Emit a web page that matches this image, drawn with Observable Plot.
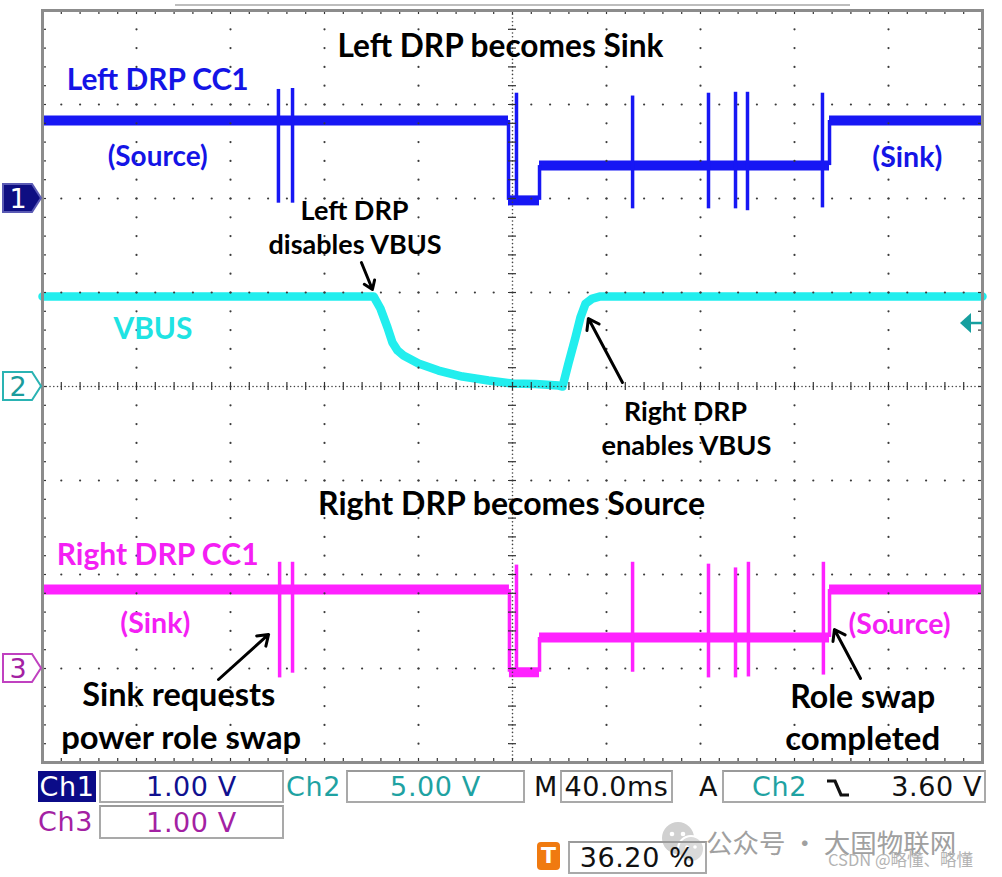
<!DOCTYPE html>
<html><head><meta charset="utf-8">
<script src="https://cdn.jsdelivr.net/npm/d3@7"></script>
<script src="https://cdn.jsdelivr.net/npm/@observablehq/plot@0.6"></script>
<style>
body{margin:0;background:#fff;}
#wrap{position:relative;width:1002px;height:877px;overflow:hidden;background:#fff;}
#wrap > svg{position:absolute;left:0;top:0;}
.st{position:absolute;font-family:"DejaVu Sans",sans-serif;font-size:27px;line-height:31px;height:31px;white-space:nowrap;letter-spacing:0.6px;}
.box{position:absolute;border:2px solid #a9a9a9;border-top-color:#9a9a9a;box-sizing:border-box;font-family:"DejaVu Sans",sans-serif;font-size:27px;letter-spacing:0.6px;display:flex;align-items:center;justify-content:center;white-space:nowrap;background:#fff;}
</style></head><body><div id="wrap"></div>
<script>
// ---- Data ----
// time axis: ms relative to screen centre (40 ms/div); voltages in V
const ch1EdgeTimes = [-1.7, 11.5, 134.9];          // step transitions
const ch1Levels = [0.83, -0.02, 0.35, 0.83];       // level between transitions
const ch1SpikeTimes = [-99.6, -93.6, 1.7, 51.1, 83.4, 94.9, 100.0, 131.9];
const ch1SpikeTop = [1.16, 1.17, 1.12, 1.09, 1.12, 1.13, 1.13, 1.12];
const ch1SpikeBottom = [-0.05, -0.05, -0.07, -0.11, -0.11, -0.11, -0.13, -0.10];

const ch2Times = [-200, -59.1, -56.2, -53.2, -51.1, -48.9, -46.4, -40.0, -31.5, -21.3, -10.2, 0, 9.8, 19.6, 21.3, 23.8, 26.8, 28.9, 31.1, 34.0, 37.4, 200];
const ch2Volts = [4.79, 4.79, 4.15, 3.14, 2.34, 1.91, 1.65, 1.22, 0.85, 0.53, 0.32, 0.16, 0.13, 0.05, 0.0, 1.22, 2.61, 3.67, 4.41, 4.68, 4.79, 4.79];

const ch3EdgeTimes = [-1.3, 11.5, 134.9];
const ch3Levels = [0.84, -0.04, 0.33, 0.84];
const ch3SpikeTimes = [-99.1, -93.6, 1.7, 51.1, 83.4, 94.9, 100.4, 132.3];
const ch3SpikeTop = [1.13, 1.13, 1.10, 1.13, 1.11, 1.07, 1.13, 1.13];
const ch3SpikeBottom = [-0.10, -0.05, -0.09, -0.04, -0.10, -0.10, -0.09, -0.07];

// channel settings: ground position (div from bottom) and V/div
const channelNames = ["1", "2", "3"];
const channelGround = [6, 4, 1];
const channelScale = [1.00, 5.00, 1.00];
const triggerLevel = 3.35; // trigger marker position on Ch2 (V)

// annotations (x in ms, y in divisions)
const labelText = ["Left DRP becomes Sink", "Left DRP CC1", "(Source)", "(Sink)", "Left DRP", "disables VBUS", "VBUS", "Right DRP", "enables VBUS", "Right DRP becomes Source", "Right DRP CC1", "(Sink)", "(Source)", "Sink requests", "power role swap", "Role swap", "completed"];
const labelX = [-5.1, -151, -151, 168, -67.2, -67, -153, 73.6, 74, -0.4, -151, -152, 164.7, -142, -141, 149, 149];
const labelY = [7.61, 7.26, 6.44, 6.43, 5.87, 5.50, 4.61, 3.73, 3.36, 2.74, 2.20, 1.48, 1.46, 0.71, 0.255, 0.69, 0.245];
const labelColor = ["k", "b", "b", "b", "k", "k", "c", "k", "k", "k", "m", "m", "m", "k", "k", "k", "k"];
// annotation typography (font size and rendered width in px)
const labelSize = [31.5, 30.2, 28.5, 28.5, 27.5, 27.5, 30, 27.5, 27.5, 31.5, 30.5, 28.5, 28.5, 32.5, 32.5, 32.5, 32.5];
const labelWidth = [326, 182, 100, 70, 108, 173, 79, 123, 170, 387, 202, 70, 102, 193, 240, 145, 155];
const arrowX1 = [-64.3, 46.8, -125.1, 148.1];
const arrowY1 = [5.319, 4.043, 0.883, 0.894];
const arrowX2 = [-59.6, 32.3, -103.8, 137.0];
const arrowY2 = [5.032, 4.723, 1.362, 1.415];

// ---- build ----
const colors = {k: "#000000", b: "#1414e6", c: "#1fe3e3", m: "#f41ff4"};
const traceColor = ["#1717f4", "#22eeee", "#ff22ff"];
const yd = (ci, v) => channelGround[ci] + v / channelScale[ci];
function levelSegs(edges, levels, ci) {
  const b = [-200, ...edges, 200];
  return levels.map((v, i) => ({x1: b[i], x2: b[i + 1], y: yd(ci, v)}));
}
function edgeSegs(edges, levels, ci) {
  return edges.map((t, i) => ({x: t, y1: yd(ci, levels[i]), y2: yd(ci, levels[i + 1])}));
}
function spikeSegs(times, top, bot, ci) {
  return times.map((t, i) => ({x: t, y1: yd(ci, bot[i]), y2: yd(ci, top[i])}));
}
const vbus = ch2Times.map((t, i) => ({x: t, y: yd(1, ch2Volts[i])}));
const labels = labelText.map((s, i) => ({s, x: labelX[i], y: labelY[i], c: colors[labelColor[i]], fs: labelSize[i]}));
const arrows = arrowX1.map((x1, i) => ({x1, y1: arrowY1[i], x2: arrowX2[i], y2: arrowY2[i]}));

// graticule
const majorX = d3.range(-160, 161, 40).filter(d => d !== 0);
const majorY = d3.range(1, 8).filter(d => d !== 4);
const subX = d3.range(-200, 200.01, 8);
const subY = d3.range(0, 8.001, 0.2);
const gridDots = [];
for (const x of majorX) for (const y of subY) gridDots.push({x, y});
for (const y of majorY) for (const x of subX) gridDots.push({x, y});
const axisDotsX = d3.range(-200, 200.01, 1.6);
const axisDotsY = d3.range(0, 8.001, 0.04);
const tx = 1.7, ty = 0.043; // tick half-lengths (~4px)

const plot = Plot.plot({
  width: 1002, height: 877,
  marginLeft: 42, marginRight: 20, marginTop: 10, marginBottom: 115,
  x: {domain: [-200, 200], axis: null},
  y: {domain: [0, 8], axis: null},
  style: {background: "transparent"},
  marks: [
    // traces
    Plot.line(vbus, {x: "x", y: "y", stroke: traceColor[1], strokeWidth: 8.5, strokeLinejoin: "round"}),
    Plot.ruleY(levelSegs(ch1EdgeTimes, ch1Levels, 0), {y: "y", x1: "x1", x2: "x2", stroke: traceColor[0], strokeWidth: 10}),
    Plot.ruleX(edgeSegs(ch1EdgeTimes, ch1Levels, 0), {x: "x", y1: "y1", y2: "y2", stroke: traceColor[0], strokeWidth: 3.5}),
    Plot.ruleX(spikeSegs(ch1SpikeTimes, ch1SpikeTop, ch1SpikeBottom, 0), {x: "x", y1: "y1", y2: "y2", stroke: traceColor[0], strokeWidth: 3.5}),
    Plot.ruleY(levelSegs(ch3EdgeTimes, ch3Levels, 2), {y: "y", x1: "x1", x2: "x2", stroke: traceColor[2], strokeWidth: 10}),
    Plot.ruleX(edgeSegs(ch3EdgeTimes, ch3Levels, 2), {x: "x", y1: "y1", y2: "y2", stroke: traceColor[2], strokeWidth: 3.5}),
    Plot.ruleX(spikeSegs(ch3SpikeTimes, ch3SpikeTop, ch3SpikeBottom, 2), {x: "x", y1: "y1", y2: "y2", stroke: traceColor[2], strokeWidth: 3.5}),
    // graticule on top
    Plot.dot(gridDots, {x: "x", y: "y", r: 1.1, fill: "#3a3a3a", stroke: null}),
    Plot.dot(axisDotsX, {x: d => d, y: 4, r: 0.8, fill: "#444", stroke: null}),
    Plot.dot(axisDotsY, {x: 0, y: d => d, r: 0.8, fill: "#444", stroke: null}),
    Plot.ruleX(subX, {x: d => d, y1: 4 - ty, y2: 4 + ty, stroke: "#333", strokeWidth: 1.2}),
    Plot.ruleY(subY, {y: d => d, x1: -tx, x2: tx, stroke: "#333", strokeWidth: 1.2}),
    // frame ticks
    Plot.ruleY(subY, {y: d => d, x1: -200, x2: -200 + tx, stroke: "#333", strokeWidth: 1.2}),
    Plot.ruleY(subY, {y: d => d, x1: 200 - tx, x2: 200, stroke: "#333", strokeWidth: 1.2}),
    Plot.ruleX(subX, {x: d => d, y1: 0, y2: ty, stroke: "#333", strokeWidth: 1.2}),
    Plot.ruleX(subX, {x: d => d, y1: 8 - ty, y2: 8, stroke: "#333", strokeWidth: 1.2}),
    Plot.frame({stroke: "#8c8c8c", strokeWidth: 3}),
    // annotations
    Plot.text(labels, {x: "x", y: "y", text: "s", fill: "c", fontSize: "fs", fontFamily: "Lato", fontWeight: "bold", className: "ann"}),
    Plot.arrow(arrows, {x1: "x1", y1: "y1", x2: "x2", y2: "y2", stroke: "#000", strokeWidth: 3, headLength: 6, headAngle: 70})
  ]
});

const wrap = document.getElementById("wrap");
wrap.appendChild(plot);

// fit annotation widths to the reference
d3.select(plot).selectAll("g.ann text").each(function (d, i) {
  this.setAttribute("textLength", labelWidth[i]);
  this.setAttribute("lengthAdjust", "spacingAndGlyphs");
});

// channel markers and trigger-level marker from the plot's scales
const ys = plot.scale("y"), xs = plot.scale("x");
const svg = d3.select(plot);
const mk = svg.append("g");
const markerFill = ["#0e0e82", "#ffffff", "#ffffff"];
const markerStroke = ["#5a5ab4", "#2ab3b3", "#c041c0"];
const markerText = ["#ffffff", "#1b9c9c", "#a321a3"];
channelNames.forEach((n, i) => {
  const y = ys.apply(channelGround[i]);
  mk.append("path")
    .attr("d", `M3,${y - 14}H32L41,${y}L32,${y + 14}H3Z`)
    .attr("fill", markerFill[i]).attr("stroke", markerStroke[i]).attr("stroke-width", 2);
  mk.append("text").attr("x", 18).attr("y", y + 10).attr("text-anchor", "middle")
    .attr("font-family", "DejaVu Sans").attr("font-size", 27).attr("fill", markerText[i]).text(n);
});
{
  const y = ys.apply(yd(1, triggerLevel));
  const xr = xs.apply(200);
  mk.append("path").attr("d", `M${xr - 22},${y}L${xr - 11},${y - 10}L${xr - 11},${y + 10}Z`).attr("fill", "#169f9f");
  mk.append("line").attr("x1", xr - 12).attr("x2", xr).attr("y1", y).attr("y2", y).attr("stroke", "#169f9f").attr("stroke-width", 2.5);
}
// record bar line above the frame
mk.append("line").attr("x1", 175).attr("x2", 850).attr("y1", 5).attr("y2", 5).attr("stroke", "#bdbdbd").attr("stroke-width", 2);

// ---- status bar ----
function add(html, cls, css) {
  const d = document.createElement("div");
  d.className = cls; d.innerHTML = html; Object.assign(d.style, css); wrap.appendChild(d);
  return d;
}
// watermark icon first (sits behind the trigger-position box)
add('<svg width="50" height="44"><circle cx="20" cy="18" r="16" fill="#d0d0d0"/><circle cx="33" cy="29" r="13" fill="#dadada" stroke="#fff" stroke-width="2"/><circle cx="14" cy="14" r="2.3" fill="#fff"/><circle cx="25" cy="14" r="2.3" fill="#fff"/><circle cx="29" cy="27" r="1.8" fill="#fff"/><circle cx="37" cy="27" r="1.8" fill="#fff"/></svg>', "st", {left: "658px", top: "820px", height: "44px"});

add("Ch1", "st", {left: "38px", top: "771px", width: "58px", background: "#0b0b88", color: "#fff", textAlign: "center"});
add("1.00 V", "box", {left: "99px", top: "770px", width: "185px", height: "33px", color: "#10108f"});
add("Ch2", "st", {left: "286px", top: "771px", color: "#1fa2a2"});
add("5.00 V", "box", {left: "346px", top: "770px", width: "179px", height: "33px", color: "#1fa2a2"});
add("M", "st", {left: "534px", top: "771px", color: "#111"});
add("40.0ms", "box", {left: "560px", top: "770px", width: "113px", height: "33px", color: "#111"});
add("A", "st", {left: "699px", top: "771px", color: "#111"});
add('<span style="color:#1fa2a2;position:absolute;left:28px;">Ch2</span>' +
    '<svg style="position:absolute;left:102px;top:5px" width="24" height="22"><path d="M1,4H9L15,18H23" fill="none" stroke="#111" stroke-width="3.2"/></svg>' +
    '<span style="position:absolute;right:2px;">3.60 V</span>', "box", {left: "722px", top: "770px", width: "264px", height: "33px", color: "#111", justifyContent: "flex-start"});
add("Ch3", "st", {left: "38px", top: "806px", color: "#a321a3"});
add("1.00 V", "box", {left: "99px", top: "805px", width: "185px", height: "34px", color: "#a321a3"});
add('<span style="display:block;width:23px;height:28px;background:#f07a10;border-radius:4px;color:#fff;font-family:\'DejaVu Sans\';font-weight:bold;font-size:22px;line-height:28px;text-align:center;letter-spacing:0">T</span>', "st", {left: "537px", top: "842px"});
add("36.20 %", "box", {left: "568px", top: "841px", width: "139px", height: "33px", color: "#111", background: "transparent"});
add("公众号 · 大国物联网", "st", {left: "706px", top: "829px", fontFamily: "'Noto Sans CJK SC'", fontSize: "26.5px", color: "#a0a0a0", letterSpacing: "0px", lineHeight: "26px", height: "26px"});
add("CSDN @略懂、略懂", "st", {left: "828px", top: "851px", fontFamily: "'Noto Sans CJK SC'", fontSize: "16.5px", color: "#b3b3b3", letterSpacing: "0px", lineHeight: "16px", height: "16px"});
</script></body></html>
